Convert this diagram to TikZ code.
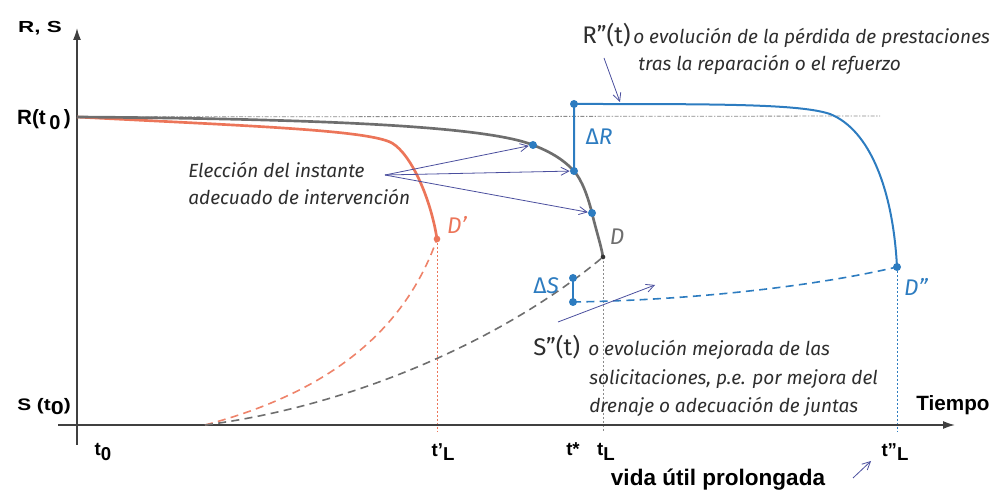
\documentclass[tikz,border=0pt]{standalone}
\usepackage{graphicx}
\usepackage{fontspec}
\setmainfont{Liberation Sans}
\newfontfamily\annot{Fira Sans}
\usetikzlibrary{arrows.meta}
\definecolor{rcol}{HTML}{EC7559}
\definecolor{gcol}{HTML}{6E6E6E}
\definecolor{bcol}{HTML}{2D7CC0}
\definecolor{acol}{HTML}{4B4F9E}
\definecolor{tcol}{HTML}{2E2E2E}
\newcommand{\lsub}[1]{\raisebox{-0.45ex}{\fontsize{14}{14}\selectfont #1}}
\tikzset{
  axlab/.style={font=\fontsize{14}{16}\selectfont\bfseries, text=black, inner sep=0pt},
  note/.style={font=\annot\itshape\fontsize{14.3}{20}\selectfont, text=tcol, inner sep=0pt, align=left},
  bigl/.style={font=\annot\fontsize{18}{20}\selectfont, text=tcol, inner sep=0pt},
  ptlab/.style={font=\annot\itshape\fontsize{17}{19}\selectfont, inner sep=0pt},
  axis/.style={line width=1.1pt, draw=black!75, -{Latex[length=9pt,width=6pt]}},
  curveg/.style={draw=gcol, line width=2pt},
  curver/.style={draw=rcol, line width=2pt},
  curveb/.style={draw=bcol, line width=1.5pt},
  dashg/.style={draw=gcol, line width=1.2pt, dash pattern=on 6pt off 4pt},
  dashr/.style={draw=rcol!90, line width=1.2pt, dash pattern=on 6pt off 4pt},
  dashb/.style={draw=bcol, line width=1.2pt, dash pattern=on 6pt off 4pt},
  vdot/.style={line width=0.6pt, dash pattern=on 1.5pt off 1.5pt},
  ann/.style={draw=acol, line width=0.6pt, -{Straight Barb[length=6pt,width=6pt]}},
  bdot/.style={circle, fill=bcol, inner sep=0pt, minimum size=6pt},
}
\begin{document}
\begin{tikzpicture}[x=0.75pt, y=-0.75pt]
\useasboundingbox (0,0) rectangle (1008,495);
% key points
\coordinate (O) at (77,425);
\coordinate (R0) at (77,117);
\coordinate (S0) at (205,425);
\coordinate (P1) at (533,145);
\coordinate (P2) at (574,171);
\coordinate (P3) at (592,213);
\coordinate (D) at (603,257);
\coordinate (Dp) at (437,239);
\coordinate (Rtop) at (574,104);
\coordinate (Dpp) at (897,267);
\coordinate (Sa) at (573,278);
\coordinate (Sb) at (573,302);
% reference dash-dot line
\coordinate (RL) at (880,116);
\draw[gcol!80, line width=0.6pt, dash pattern=on 3pt off 1.2pt on 1pt off 1.2pt] (R0) -- (RL);
% vertical dotted lines
\coordinate (xa) at (437,432);
\coordinate (xb) at (603,432);
\coordinate (xc) at (897,432);
\draw[vdot, draw=rcol] (Dp) -- (xa);
\draw[vdot, draw=gcol!80] (D) -- (xb);
\draw[vdot, draw=bcol] (Dpp) -- (xc);
% axes
\coordinate (ybot) at (77,445);
\coordinate (ytop) at (77,28);
\coordinate (xl) at (58,425);
\coordinate (xr) at (955,425);
\draw[axis] (ybot) -- (ytop);
\draw[axis] (xl) -- (xr);
% dashed S curves
\draw[dashr] (S0) .. controls (330,392) and (405,330) .. (Dp);
\draw[dashg] (S0) .. controls (360,405) and (510,335) .. (D);
\draw[dashb] (Sb) .. controls (700,300) and (820,285) .. (Dpp);
% R curves
\draw[curver] (R0) .. controls (250,126) and (368,130) .. (392,143) .. controls (412,155) and (431,200) .. (Dp);
\draw[curveg] (R0) .. controls (350,119) and (490,128) .. (P1) .. controls (548,151) and (562,158) .. (P2) .. controls (582,180) and (588,197) .. (P3) .. controls (596,230) and (601,245) .. (D);
\draw[curveb] (P2) -- (Rtop) .. controls (720,104) and (800,104) .. (830,114) .. controls (870,130) and (893,190) .. (Dpp);
\draw[curveb, line width=2pt] (Sa) -- (Sb);
% points
\node[bdot] (n1) at (P1) {};
\node[bdot] (n2) at (P2) {};
\node[bdot] (n3) at (P3) {};
\node[bdot] (n4) at (Rtop) {};
\node[bdot] (n5) at (Dpp) {};
\node[bdot] (n6) at (Sa) {};
\node[bdot] (n7) at (Sb) {};
\node[circle, fill=rcol, inner sep=0pt, minimum size=5pt] (nd1) at (Dp) {};
\node[circle, fill=black!80, inner sep=0pt, minimum size=3.5pt] (nd2) at (D) {};
% point labels
\node[ptlab, text=rcol] (lDp) at (457,225) {D’};
\node[ptlab, text=gcol] (lD) at (617,237) {D};
\node[ptlab, text=bcol] (lDpp) at (916,287) {D”};
\node[ptlab, text=bcol] (lDR) at (599,137) {{\upshape Δ}R};
\node[ptlab, text=bcol] (lDS) at (546,286) {{\upshape Δ}S};
% annotation: eleccion
\node[note, anchor=base west] (elec1) at (188,178) {Elección del instante};
\node[note, anchor=base west] (elec2) at (188,205) {adecuado de intervención};
\coordinate (ea) at (385,175);
\draw[ann] (ea) -- (n1);
\draw[ann] (ea) -- (n2);
\draw[ann] (ea) -- (n3);
% annotation: R''
\node[bigl, anchor=base west] (Rpp) at (582,44) {R”(t)};
\node[note, anchor=base west] (Rpt1) at (633,44) {o evolución de la pérdida de prestaciones};
\node[note, anchor=base west] (Rpt2) at (638,71) {tras la reparación o el refuerzo};
\coordinate (ra) at (604,58);
\coordinate (rb) at (620,102);
\draw[ann] (ra) -- (rb);
% annotation: S''
\node[bigl, anchor=base west] (Spp) at (533,356) {S”(t)};
\node[note, anchor=base west] (Spt1) at (588,356) {o evolución mejorada de las};
\node[note, anchor=base west] (Spt2) at (589,385) {solicitaciones, p.e. por mejora del};
\node[note, anchor=base west] (Spt3) at (589,413) {drenaje o adecuación de juntas};
\coordinate (sa) at (558,322);
\coordinate (sb) at (655,285);
\draw[ann] (sa) -- (sb);
% axis labels
\node[axlab, font=\fontsize{12}{14}\selectfont\bfseries] (lRS) at (40,28) {\scalebox{1.4}[1]{R, S}};
\node[axlab, font=\fontsize{15.5}{17}\selectfont\bfseries, anchor=east] (lR0) at (71,120) {R(t\,\raisebox{-0.45ex}{\fontsize{15}{15}\selectfont 0}\,)};
\node[axlab, font=\fontsize{12.5}{14}\selectfont\bfseries, anchor=east] (lS0) at (71,407) {\scalebox{1.25}[1]{S (t\lsub{0})}};
\node[axlab] (lt0) at (103,452) {t\lsub{0}};
\node[axlab] (ltL1) at (443,452) {t'\lsub{L}};
\node[axlab] (lts) at (573,449) {t*};
\node[axlab] (ltL) at (606,452) {t\lsub{L}};
\node[axlab] (ltL2) at (895,452) {t"\lsub{L}};
\node[axlab, font=\fontsize{15.5}{17}\selectfont\bfseries] (ltiempo) at (953,405) {Tiempo};
\node[axlab, font=\fontsize{16.9}{18}\selectfont\bfseries] (lvida) at (718,480) {vida útil prolongada};
\coordinate (va) at (853,478);
\coordinate (vb) at (871,461);
\draw[ann] (va) -- (vb);
\end{tikzpicture}
\end{document}
